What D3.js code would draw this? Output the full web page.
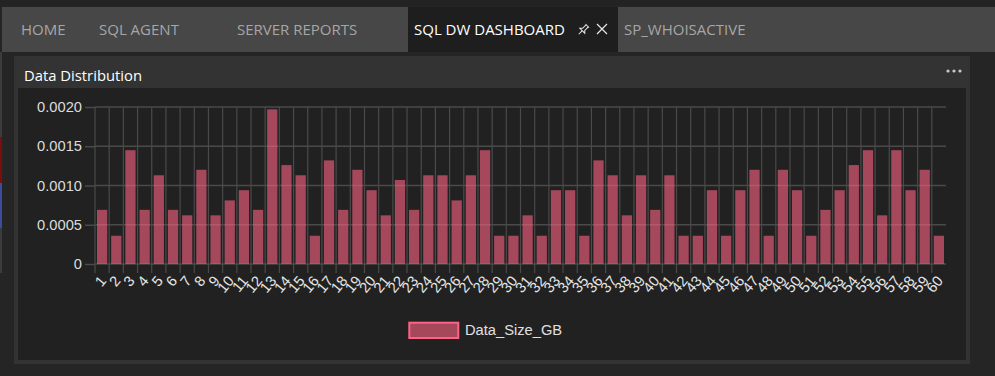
<!DOCTYPE html>
<html>
<head>
<meta charset="utf-8">
<script src="https://cdn.jsdelivr.net/npm/d3@7/dist/d3.min.js"></script>
<style>
  html, body { margin: 0; padding: 0; background: #252526; }
  svg { display: block; }
</style>
</head>
<body>
<svg id="chart" width="995" height="376"></svg>
<script>
// ---- data ----
const categories = d3.range(1, 61).map(String);
const dataSizeGB = [
  0.00069, 0.00036, 0.00145, 0.00069, 0.00113, 0.00069, 0.00062, 0.00120, 0.00062, 0.00081,
  0.00094, 0.00069, 0.00197, 0.00126, 0.00113, 0.00036, 0.00132, 0.00069, 0.00120, 0.00094,
  0.00062, 0.00107, 0.00069, 0.00113, 0.00113, 0.00081, 0.00113, 0.00145, 0.00036, 0.00036,
  0.00062, 0.00036, 0.00094, 0.00094, 0.00036, 0.00132, 0.00113, 0.00062, 0.00113, 0.00069,
  0.00113, 0.00036, 0.00036, 0.00094, 0.00036, 0.00094, 0.00120, 0.00036, 0.00120, 0.00094,
  0.00036, 0.00069, 0.00094, 0.00126, 0.00145, 0.00062, 0.00145, 0.00094, 0.00120, 0.00036
];
const yTickValues = [0, 0.0005, 0.0010, 0.0015, 0.0020];
const yTickLabels = ["0", "0.0005", "0.0010", "0.0015", "0.0020"];
const seriesName = "Data_Size_GB";
const tabs = ["HOME", "SQL AGENT", "SERVER REPORTS", "SQL DW DASHBOARD", "SP_WHOISACTIVE"];
const panelTitle = "Data Distribution";

const svg = d3.select("#chart");
const W = 995, H = 376;

// ---- chrome ----
svg.append("rect").attr("x", 0).attr("y", 0).attr("width", W).attr("height", H).attr("fill", "#252526");
svg.append("rect").attr("x", 0).attr("y", 0).attr("width", W).attr("height", 6).attr("fill", "#232323");
svg.append("rect").attr("x", 2).attr("y", 7).attr("width", W - 2).attr("height", 45).attr("fill", "#474747");
svg.append("rect").attr("x", 408).attr("y", 7).attr("width", 210).attr("height", 45).attr("fill", "#1e1e1e");

// left activity strip
svg.append("rect").attr("x", 0).attr("y", 52).attr("width", 2).attr("height", 221).attr("fill", "#3c3c3c");
svg.append("rect").attr("x", 0).attr("y", 137).attr("width", 2).attr("height", 46).attr("fill", "#7d0c0c");
svg.append("rect").attr("x", 0).attr("y", 183).attr("width", 2).attr("height", 45).attr("fill", "#3d4c9c");

const tabX = [21, 99, 237, 414, 624];
svg.selectAll("text.tab").data(tabs).join("text")
  .attr("class", "tab")
  .attr("x", (d, i) => tabX[i]).attr("y", 35)
  .attr("font-family", "'Open Sans', 'Noto Sans', sans-serif")
  .attr("font-size", 15)
  .attr("fill", (d, i) => i === 3 ? "#ffffff" : "#a6a6a6")
  .text(d => d);

// pin icon
const pin = svg.append("g").attr("transform", "translate(583,30) rotate(45)")
  .attr("fill", "none").attr("stroke", "#e8e8e8").attr("stroke-width", 1);
pin.append("path").attr("d", "M-2.5,-6 L2.5,-6 M-1.5,-6 L-1.5,-1 L-3.5,1 L3.5,1 L1.5,-1 L1.5,-6 M0,1 L0,6");
// close X
svg.append("path").attr("d", "M597,24 L607,34 M607,24 L597,34")
  .attr("stroke", "#e8e8e8").attr("stroke-width", 1.2).attr("fill", "none");

// panel
svg.append("rect").attr("x", 14).attr("y", 56).attr("width", 956).attr("height", 308).attr("fill", "#333333");
svg.append("rect").attr("x", 18).attr("y", 88).attr("width", 948).attr("height", 272).attr("fill", "#212121");
svg.append("text").attr("x", 24).attr("y", 81)
  .attr("font-family", "'Open Sans', 'Noto Sans', sans-serif")
  .attr("font-size", 14.8).attr("fill", "#ffffff").text(panelTitle);
svg.selectAll("circle.dot").data([948, 954, 960]).join("circle")
  .attr("class", "dot").attr("cx", d => d).attr("cy", 71).attr("r", 1.6).attr("fill", "#c8c8c8");

// ---- chart ----
const plotL = 95, plotR = 946, plotT = 107, plotB = 264;
const x = d3.scaleBand().domain(categories).range([plotL, plotR]).padding(0);
const y = d3.scaleLinear().domain([0, 0.002]).range([plotB, plotT]);
const gridColor = "#4a4a4a";

const g = svg.append("g");
// horizontal grid
g.selectAll("line.hg").data(yTickValues).join("line")
  .attr("class", "hg")
  .attr("x1", plotL).attr("x2", plotR)
  .attr("y1", d => y(d)).attr("y2", d => y(d))
  .attr("stroke", gridColor).attr("stroke-width", 1.5);
// vertical grid at category boundaries
g.selectAll("line.vg").data(categories).join("line")
  .attr("class", "vg")
  .attr("x1", d => x(d)).attr("x2", d => x(d))
  .attr("y1", plotT).attr("y2", plotB + 9)
  .attr("stroke", gridColor).attr("stroke-width", 1.2);

// y axis
const yAxis = d3.axisLeft(y).tickValues(yTickValues)
  .tickFormat((d, i) => yTickLabels[i]).tickSize(10).tickPadding(3);
const ya = svg.append("g").attr("transform", `translate(${plotL},0)`).call(yAxis);
ya.select(".domain").remove();
ya.selectAll(".tick line").attr("stroke", gridColor).attr("stroke-width", 1.5);
ya.selectAll(".tick text").attr("fill", "#dcdcdc")
  .attr("font-family", "'Liberation Sans', Arial, sans-serif").attr("font-size", 14.7);

// bars
const barFrac = 0.72;
svg.append("g").selectAll("rect.bar").data(dataSizeGB).join("rect")
  .attr("class", "bar")
  .attr("x", (d, i) => x(categories[i]) + x.bandwidth() * (1 - barFrac) / 2)
  .attr("width", x.bandwidth() * barFrac)
  .attr("y", d => y(d))
  .attr("height", d => y(0) - y(d))
  .attr("fill", "rgba(255,99,132,0.6)");

// x axis labels
const xAxis = d3.axisBottom(x).tickSize(0).tickPadding(0);
const xa = svg.append("g").attr("transform", `translate(0,${plotB})`).call(xAxis);
xa.select(".domain").remove();
xa.selectAll(".tick text")
  .attr("fill", "#e6e6e6")
  .attr("font-family", "'Liberation Sans', Arial, sans-serif").attr("font-size", 14.7)
  .attr("text-anchor", "end")
  .attr("x", 0).attr("y", 0).attr("dy", "0.35em")
  .attr("transform", "translate(1,14) rotate(-50)");

// legend
const lg = svg.append("g");
lg.append("rect").attr("x", 409.3).attr("y", 322.7).attr("width", 49).attr("height", 15.3)
  .attr("fill", "rgba(255,99,132,0.6)").attr("stroke", "#ff6384").attr("stroke-width", 2);
lg.append("text").attr("x", 465).attr("y", 335)
  .attr("font-family", "'Liberation Sans', Arial, sans-serif").attr("font-size", 14.7)
  .attr("fill", "#e0e0e0").text(seriesName);
</script>
</body>
</html>
